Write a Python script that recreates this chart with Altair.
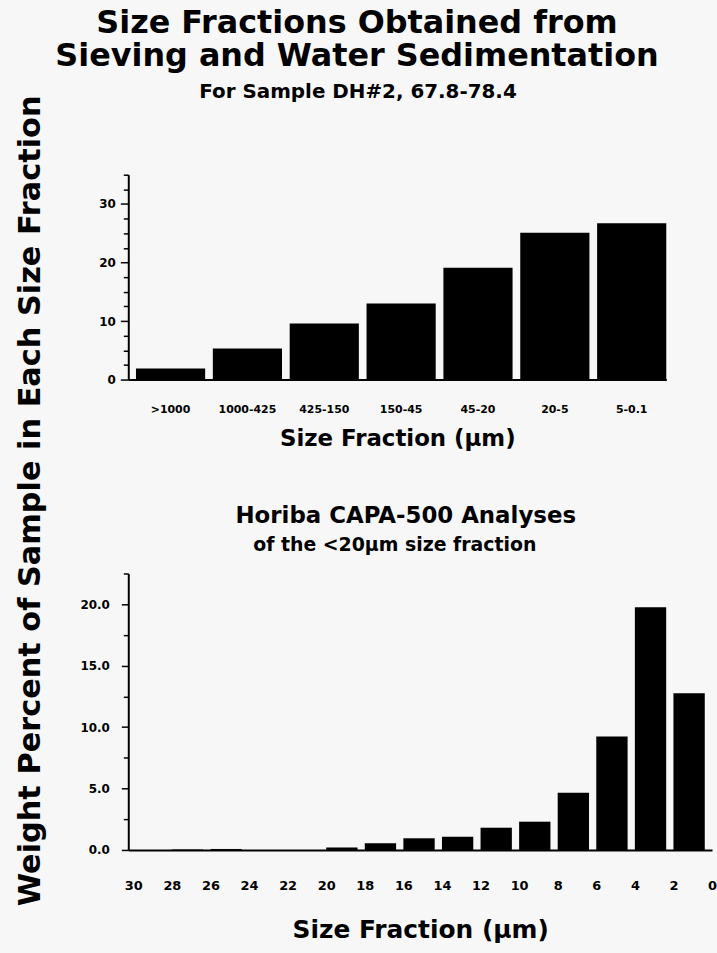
import altair as alt
import pandas as pd

FONT = "DejaVu Sans"

# ---- data: sieving / sedimentation ----
top_cats = [">1000", "1000-425", "425-150", "150-45", "45-20", "20-5", "5-0.1"]
top_vals = [1.9, 5.3, 9.6, 13.0, 19.1, 25.1, 26.7]

# ---- data: Horiba CAPA-500 (bins from hi to lo, µm) ----
bin_hi = [30, 28, 26, 24, 22, 20, 18, 16, 14, 12, 10, 8, 6, 4, 2]
bin_lo = [28, 26, 24, 22, 20, 18, 16, 14, 12, 10, 8, 6, 4, 2, 0]
bin_vals = [0.0, 0.04, 0.08, 0.0, 0.0, 0.2, 0.54, 0.95, 1.08, 1.81, 2.3, 4.66, 9.24, 19.75, 12.75]
bottom_ticks = [30, 28, 26, 24, 22, 20, 18, 16, 14, 12, 10, 8, 6, 4, 2, 0]

top_y_ticks = [i * 2.5 for i in range(15)]
bottom_y_ticks = [i * 2.5 for i in range(10)]

title_line1 = "Size Fractions Obtained from"
title_line2 = "Sieving and Water Sedimentation"
title_line3 = "For Sample DH#2, 67.8-78.4"
bottom_title = "Horiba CAPA-500 Analyses"
bottom_subtitle = "of the <20µm size fraction"
y_title = "Weight Percent of Sample in Each Size Fraction"
x_title = "Size Fraction (µm)"

df_top = pd.DataFrame({"cat": top_cats, "val": top_vals})
df_bot = pd.DataFrame({"hi": bin_hi, "lo": bin_lo, "val": bin_vals})

axis_common = dict(
    labelFont=FONT, labelFontWeight="bold", labelColor="black",
    titleFont=FONT, titleFontWeight="bold", titleColor="black",
    domainColor="black", domainWidth=2, tickColor="black", tickWidth=1.5,
    grid=False,
)


def text_layer(txt, x, y, size, angle=0):
    return alt.Chart(alt.Data(values=[{"t": txt}])).mark_text(
        angle=angle, font=FONT, fontSize=size, fontWeight="bold",
        align="center", baseline="middle", color="black",
    ).encode(x=alt.value(x), y=alt.value(y), text="t:N")


top_bars = alt.Chart(df_top).mark_bar(color="black").encode(
    x=alt.X("cat:N", sort=top_cats,
            scale=alt.Scale(paddingInner=0.1, paddingOuter=0.05, align=1),
            axis=alt.Axis(title=x_title, ticks=False, labelAngle=0,
                          labelFontSize=11, labelPadding=24, titleFontSize=23,
                          titlePadding=13, **axis_common)),
    y=alt.Y("val:Q", scale=alt.Scale(domain=[0, 35], nice=False, zero=True),
            axis=alt.Axis(title=None, values=top_y_ticks,
                          labelExpr="datum.value % 10 === 0 ? datum.label : ''",
                          tickSize={"condition": {"test": "datum.value % 10 === 0", "value": 8}, "value": 5},
                          labelFontSize=12, labelPadding=5, **axis_common)),
)

top = alt.layer(
    top_bars,
    text_layer(title_line1, 230, -153, 32),
    text_layer(title_line2, 230, -119, 32),
    text_layer(title_line3, 231, -83, 20),
    text_layer(y_title, -98, 328, 30.5, angle=270),
).properties(width=541, height=206)

bottom_bars = alt.Chart(df_bot).mark_bar(color="black", x2Offset=-7.3).encode(
    x=alt.X("hi:Q",
            scale=alt.Scale(domain=[0, 30.26], reverse=True, nice=False, zero=False),
            axis=alt.Axis(title=x_title, values=bottom_ticks, ticks=False,
                          labelFlush=False, labelOverlap=False, labelAngle=0,
                          labelFontSize=13, labelPadding=30, titleFontSize=25,
                          titlePadding=25, **axis_common)),
    x2="lo:Q",
    y=alt.Y("val:Q", scale=alt.Scale(domain=[0, 22.5], nice=False),
            axis=alt.Axis(title=None, values=bottom_y_ticks,
                          labelExpr="datum.value % 5 === 0 ? format(datum.value, '.1f') : ''",
                          tickSize={"condition": {"test": "datum.value % 5 === 0", "value": 7}, "value": 5},
                          labelFontSize=12, labelPadding=12, **axis_common)),
    y2=alt.datum(0),
)

bottom = alt.layer(
    bottom_bars,
    text_layer(bottom_title, 279, -58, 23),
    text_layer(bottom_subtitle, 268, -29, 19),
).properties(width=587, height=278)

chart = alt.vconcat(top, bottom, spacing=195, bounds="flush").properties(
    padding={"left": 15, "top": 4, "right": 0, "bottom": 20},
    background="#f7f7f7",
).configure_view(stroke=None)

chart.save("out.html", embed_options={"renderer": "svg", "actions": False})
